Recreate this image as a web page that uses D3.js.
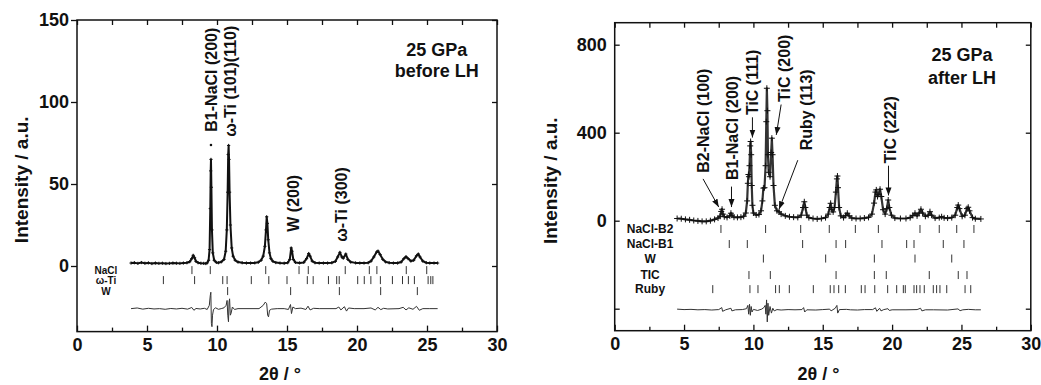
<!DOCTYPE html>
<html>
<head>
<meta charset="utf-8">
<script src="https://cdn.jsdelivr.net/npm/d3@7"></script>
<style>
  body { margin: 0; background: #fff; }
  svg text { font-family: "Liberation Sans", Arial, sans-serif; font-weight: bold; fill: #111; }
</style>
</head>
<body>
<svg id="chart" width="1041" height="385"></svg>
<script>
// ---------- data: 25 GPa, before laser heating ----------
const beforeObs = [
  [3.86,1.8],[4.1,2.0],[4.35,1.6],[4.6,2.1],[4.85,1.7],[5.1,1.9],[5.35,1.5],[5.6,1.8],[5.85,1.6],
  [6.1,1.7],[6.35,1.5],[6.6,1.6],[6.85,1.8],[7.1,1.7],[7.35,1.6],[7.6,1.8],[7.85,2.0],[8.05,2.6],
  [8.2,4.5],[8.3,6.5],[8.4,5.0],[8.5,2.8],[8.65,2.0],[8.85,1.7],[9.05,1.6],[9.2,1.5],[9.3,1.9],
  [9.4,3.5],[9.47,10],[9.52,35],[9.55,58],[9.57,65],[9.6,48],[9.64,22],[9.7,8],[9.8,3.5],[9.95,2.2],
  [10.1,2.0],[10.3,2.5],[10.5,4],[10.62,9],[10.7,22],[10.76,45],[10.8,68],[10.83,73.5],[10.86,65],
  [10.9,45],[10.96,25],[11.05,11],[11.15,6],[11.3,3.5],[11.5,2.4],[11.8,2.0],[12.1,1.8],[12.4,1.8],
  [12.7,1.9],[12.95,2.3],[13.15,3.5],[13.3,6],[13.42,12],[13.5,22],[13.55,30],[13.6,26],[13.66,16],
  [13.75,8],[13.85,4.5],[14.0,2.8],[14.2,2.1],[14.5,1.8],[14.8,1.7],[15.05,2.0],[15.2,4],[15.3,11],
  [15.36,9],[15.45,4],[15.6,2.2],[15.9,1.9],[16.2,2.2],[16.4,4.5],[16.55,7.6],[16.65,6],[16.8,3],
  [17.0,2.0],[17.3,1.8],[17.6,1.8],[17.9,1.8],[18.2,2.0],[18.45,2.8],[18.62,5.5],[18.78,8.3],
  [18.92,5.5],[19.02,4.8],[19.2,7.3],[19.35,4],[19.55,2.4],[19.9,1.9],[20.2,1.8],[20.5,1.8],
  [20.8,2.0],[21.0,3.0],[21.2,5.5],[21.4,8.5],[21.5,9.1],[21.65,7],[21.85,4],[22.05,2.5],[22.3,2.0],
  [22.6,1.8],[22.9,1.8],[23.15,2.4],[23.35,4.5],[23.5,5.7],[23.65,4.5],[23.85,3.0],[24.05,3.5],
  [24.25,6.2],[24.38,7.3],[24.5,5.5],[24.7,3],[24.95,2],[25.2,1.8],[25.5,1.8],[25.76,1.8]
];
const beforeStray = [[9.57,73.8]];
const beforeDiff = [
  [3.86,-26],[4.3,-25.6],[4.7,-26.3],[5.1,-25.8],[5.5,-26.2],[5.9,-26],[6.3,-26.4],[6.7,-25.9],
  [7.1,-26.2],[7.5,-25.8],[7.9,-26.3],[8.2,-25.3],[8.35,-27],[8.5,-25.9],[8.8,-26.2],[9.1,-25.8],
  [9.3,-26.5],[9.45,-24],[9.52,-18],[9.56,-16],[9.6,-35],[9.64,-37],[9.68,-30],[9.75,-26.5],
  [9.9,-25.5],[10.1,-26.4],[10.3,-26],[10.5,-25.5],[10.65,-24],[10.72,-21],[10.77,-30],[10.82,-34],
  [10.86,-22],[10.9,-20],[10.95,-30],[11.0,-29],[11.1,-25],[11.25,-26.5],[11.5,-26],[12,-26],
  [12.5,-26],[13.0,-26],[13.3,-24],[13.45,-22],[13.55,-23],[13.62,-30],[13.68,-31],[13.75,-27],
  [13.9,-26.3],[14.3,-26],[14.8,-26],[15.1,-26.5],[15.25,-23.5],[15.32,-29],[15.42,-25],[15.6,-26],
  [16.0,-25.7],[16.35,-26.5],[16.5,-24.5],[16.65,-26.8],[16.9,-25.8],[17.3,-26],[18,-26],[18.5,-26],
  [18.7,-25],[18.85,-26.8],[19.1,-24.8],[19.25,-27.5],[19.4,-25.6],[19.8,-26],[20.5,-26],[21,-25.6],
  [21.3,-26.8],[21.5,-25.2],[21.7,-26.6],[21.9,-25.8],[22.2,-26.2],[23,-26],[23.3,-25.2],[23.5,-26.8],
  [23.7,-25.5],[24.0,-26.4],[24.25,-24.6],[24.45,-27],[24.7,-26],[25.2,-26],[25.76,-26]
];
const beforePhases = ["NaCl", "\u03c9-Ti", "W"];
const beforeReflections = [
  [8.21,9.52,13.48,15.86,16.52,19.16,20.88,21.42,23.52,24.98],
  [6.17,8.4,10.41,10.72,12.45,13.7,15.0,16.45,16.87,17.96,18.55,18.73,20.05,20.52,20.99,21.67,
   22.53,23.25,23.67,24.1,25.08,25.27,25.42],
  [10.76,15.26,18.74,21.69,24.31]
];
const beforePeakLabels = ["B1-NaCl (200)", "\u03c9-Ti (101)(110)", "W (200)", "\u03c9-Ti (300)"];
const beforeTitle = ["25 GPa", "before LH"];
const beforeYTicks = [0, 50, 100, 150];

// ---------- data: 25 GPa, after laser heating ----------
const afterObs = [
  [4.5,10],[4.8,9],[5.1,6],[5.4,4],[5.7,1],[6.0,-1],[6.3,-3],[6.6,-3],[6.9,0],[7.2,6],[7.45,12],
  [7.6,20],[7.68,42],[7.74,52],[7.8,30],[7.9,18],[8.1,15],[8.3,22],[8.38,34],[8.45,25],[8.6,16],
  [8.85,15],[9.1,16],[9.3,20],[9.45,35],[9.55,90],[9.6,170],[9.64,210],[9.68,200],[9.72,250],
  [9.77,340],[9.8,360],[9.84,300],[9.88,160],[9.93,70],[10.0,35],[10.2,26],[10.4,28],[10.55,45],
  [10.65,90],[10.72,148],[10.8,150],[10.88,250],[10.93,450],[10.97,602],[11.01,500],[11.05,300],
  [11.1,220],[11.2,200],[11.28,310],[11.33,375],[11.38,300],[11.45,160],[11.55,70],[11.7,45],
  [11.85,40],[12.0,30],[12.3,22],[12.6,18],[12.9,16],[13.2,15],[13.45,25],[13.58,60],[13.67,86],
  [13.75,60],[13.85,25],[14.0,14],[14.3,10],[14.6,8],[14.9,10],[15.2,14],[15.4,30],[15.5,60],
  [15.57,79],[15.65,50],[15.75,40],[15.85,60],[15.95,130],[16.02,190],[16.06,203],[16.1,150],
  [16.18,60],[16.3,22],[16.5,14],[16.65,24],[16.77,34],[16.9,22],[17.1,12],[17.4,10],[17.7,10],
  [18.0,12],[18.3,15],[18.55,30],[18.7,80],[18.8,130],[18.86,140],[18.95,110],[19.05,120],
  [19.13,143],[19.22,110],[19.35,50],[19.5,30],[19.62,55],[19.72,94],[19.8,60],[19.95,25],
  [20.2,12],[20.6,10],[21.0,10],[21.3,14],[21.5,24],[21.65,34],[21.8,22],[21.95,35],[22.08,52],
  [22.2,35],[22.4,20],[22.6,25],[22.73,41],[22.85,25],[23.1,12],[23.4,14],[23.57,18],[23.75,13],
  [24.0,12],[24.3,14],[24.55,25],[24.7,60],[24.77,71],[24.85,55],[25.05,20],[25.25,25],[25.4,55],
  [25.49,61],[25.58,45],[25.8,14],[26.0,9],[26.4,8]
];
const afterDiff = [
  [4.5,-402],[5,-404],[5.5,-403],[6,-405],[6.5,-404],[7,-406],[7.5,-404],[7.72,-395],[7.78,-412],
  [8.0,-405],[8.38,-398],[8.45,-410],[8.7,-405],[9.2,-404],[9.5,-400],[9.6,-385],[9.66,-425],
  [9.72,-380],[9.78,-430],[9.84,-390],[9.9,-415],[10.0,-403],[10.3,-408],[10.6,-402],[10.75,-395],
  [10.85,-385],[10.9,-425],[10.95,-360],[11.0,-460],[11.05,-375],[11.1,-430],[11.2,-390],[11.3,-420],
  [11.4,-398],[11.5,-410],[11.7,-404],[12.0,-406],[12.5,-404],[13.0,-405],[13.5,-404],[13.62,-395],
  [13.7,-415],[13.85,-405],[14.5,-406],[15.0,-404],[15.5,-402],[15.6,-410],[15.9,-398],[16.02,-385],
  [16.08,-420],[16.2,-404],[16.7,-403],[17,-405],[17.5,-406],[18,-404],[18.6,-404],[18.8,-396],
  [18.9,-412],[19.1,-398],[19.2,-410],[19.4,-404],[19.7,-400],[19.8,-408],[20,-405],[21,-405],
  [21.8,-404],[22.05,-398],[22.15,-410],[22.4,-405],[23,-405],[24,-406],[24.75,-401],[24.9,-409],
  [25.1,-405],[25.5,-403],[26,-405],[26.4,-405]
];
const afterPhases = ["NaCl-B2", "NaCl-B1", "W", "TIC", "Ruby"];
const afterReflections = [
  [7.66,10.88,13.41,15.47,17.35,19.01,22.01,23.4,24.66,25.9],
  [8.26,9.56,13.55,15.96,16.65,19.27,21.05,21.58,23.69,25.18],
  [10.72,15.21,18.72,21.65,24.3],
  [9.68,11.22,15.96,18.72,19.58,22.68,24.77,25.4],
  [7.07,9.75,10.33,11.6,11.87,12.59,14.32,15.54,15.81,16.15,16.63,17.78,18.05,18.75,19.68,20.33,
   20.81,20.95,21.58,21.77,22.01,22.32,22.97,23.21,23.45,23.94,25.26,25.67]
];
const afterPeakLabels = ["B2-NaCl (100)", "B1-NaCl (200)", "TiC (111)", "TiC (200)", "Ruby (113)", "TiC (222)"];
const afterTitle = ["25 GPa", "after LH"];
const afterYTicks = [-400, 0, 400, 800];
const afterYTickLabels = ["", "0", "400", "800"];

const xMajorTicks = [0, 5, 10, 15, 20, 25, 30];
const xMinorTicks = [2.5, 7.5, 12.5, 17.5, 22.5, 27.5];

// ---------- drawing ----------
const svg = d3.select("#chart");
const ink = "#111";

svg.append("defs").append("marker")
  .attr("id", "arrowhead")
  .attr("markerUnits", "userSpaceOnUse")
  .attr("markerWidth", 9).attr("markerHeight", 7)
  .attr("refX", 8).attr("refY", 3.5)
  .attr("orient", "auto")
  .append("path").attr("d", "M0,0.5 L8,3.5 L0,6.5 Z").attr("fill", ink);

function styleAxis(sel, fontSize) {
  sel.attr("font-family", null).attr("font-size", null);
  sel.select(".domain").remove();
  sel.selectAll(".tick line").attr("stroke", ink).attr("stroke-width", 1.3);
  sel.selectAll(".tick text")
    .style("font-size", fontSize + "px")
    .style("font-family", "'Liberation Sans', Arial, sans-serif")
    .style("font-weight", "bold")
    .attr("fill", ink);
}

function drawPanel(p) {
  const x = d3.scaleLinear().domain([0, 30]).range(p.xRange);
  const y = d3.scaleLinear().domain(p.yDomain).range(p.yRange);
  const g = svg.append("g");
  const [x0, x1] = p.xRange;
  const [yb, yt] = p.yRange;

  // axes
  g.append("g").attr("transform", `translate(0,${yb})`)
    .call(d3.axisBottom(x).tickValues(xMajorTicks).tickSize(-6).tickPadding(7).tickFormat(d3.format("d")))
    .call(s => styleAxis(s, 18));
  g.append("g").attr("transform", `translate(0,${yb})`)
    .call(d3.axisBottom(x).tickValues(xMinorTicks).tickSize(-4).tickFormat(""))
    .call(s => styleAxis(s, 18));
  g.append("g").attr("transform", `translate(0,${yt})`)
    .call(d3.axisTop(x).tickValues(xMajorTicks.concat(xMinorTicks)).tickSize(-5).tickFormat(""))
    .call(s => styleAxis(s, 18));
  g.append("g").attr("transform", `translate(${x0},0)`)
    .call(d3.axisLeft(y).tickValues(p.yTicks).tickSize(p.leftTick).tickPadding(p.leftPad)
      .tickFormat((d, i) => p.yTickLabels ? p.yTickLabels[i] : d3.format("d")(d)))
    .call(s => styleAxis(s, 18));
  g.append("g").attr("transform", `translate(${x1},0)`)
    .call(d3.axisRight(y).tickValues(p.yTicks).tickSize(-5).tickFormat(""))
    .call(s => styleAxis(s, 18));

  // frame
  g.append("rect")
    .attr("x", x0).attr("y", yt).attr("width", x1 - x0).attr("height", yb - yt)
    .attr("fill", "none").attr("stroke", ink).attr("stroke-width", 1.5);

  // reflection markers
  p.reflections.forEach((list, i) => {
    const yc = y(p.rowY[i]);
    g.append("g").selectAll("line").data(list).join("line")
      .attr("x1", d => x(d)).attr("x2", d => x(d))
      .attr("y1", yc - 4).attr("y2", yc + 4)
      .attr("stroke", "#333").attr("stroke-width", 1);
    g.append("text")
      .attr("x", x(p.phaseX)).attr("y", yc).attr("dy", "0.36em")
      .attr("text-anchor", "middle")
      .style("font-size", p.phaseFont + "px")
      .text(p.phases[i]);
  });

  // difference curve
  const line = d3.line().x(d => x(d[0])).y(d => y(d[1]));
  g.append("path").datum(p.diff).attr("d", line)
    .attr("fill", "none").attr("stroke", "#333").attr("stroke-width", 1);

  // calculated / observed profile
  g.append("path").datum(p.obs).attr("d", line)
    .attr("fill", "none").attr("stroke", p.lineColor).attr("stroke-width", p.lineWidth)
    .attr("stroke-linejoin", "round");
  const m = p.markerSize;
  g.append("g").selectAll("path").data(p.obs).join("path")
    .attr("transform", d => `translate(${x(d[0])},${y(d[1])})`)
    .attr("d", `M${-m},0H${m}M0,${-m}V${m}`)
    .attr("stroke", ink).attr("stroke-width", 1);
  if (p.stray) {
    g.append("g").selectAll("circle").data(p.stray).join("circle")
      .attr("cx", d => x(d[0])).attr("cy", d => y(d[1])).attr("r", 1.3).attr("fill", ink);
  }

  // axis titles
  g.append("text")
    .attr("transform", `translate(${p.yTitleX},${(yt + yb) / 2 + 4}) rotate(-90)`)
    .attr("text-anchor", "middle").attr("dy", "0.35em")
    .style("font-size", "19px")
    .text("Intensity / a.u.");
  g.append("text")
    .attr("x", x(p.xTitleAt)).attr("y", 380)
    .attr("text-anchor", "middle")
    .style("font-size", "18px")
    .text("2\u03b8 / \u00b0");

  // condition label
  p.title.forEach((t, i) => {
    g.append("text")
      .attr("x", x(p.titleX)).attr("y", y(p.titleY[i])).attr("dy", "0.35em")
      .attr("text-anchor", "middle")
      .style("font-size", "18px")
      .text(t);
  });

  // peak assignments
  p.peakLabels.forEach((t, i) => {
    const a = p.peakLayout[i];
    g.append("text")
      .attr("transform", `translate(${x(a.x)},${y(a.y)}) rotate(-90)`)
      .attr("dy", "0.36em")
      .style("font-size", "16px")
      .text(t);
    if (a.arrow) {
      g.append("line")
        .attr("x1", x(a.arrow[0])).attr("y1", y(a.arrow[1]))
        .attr("x2", x(a.arrow[2])).attr("y2", y(a.arrow[3]))
        .attr("stroke", ink).attr("stroke-width", 1)
        .attr("marker-end", "url(#arrowhead)");
    }
  });
}

drawPanel({
  xRange: [77, 497], yDomain: [-40, 150], yRange: [331.6, 20],
  yTicks: beforeYTicks, leftTick: 6, leftPad: 2,
  obs: beforeObs, diff: beforeDiff, stray: beforeStray,
  lineColor: ink, lineWidth: 2, markerSize: 1.6,
  reflections: beforeReflections, phases: beforePhases, phaseFont: 10,
  rowY: [-2.5, -8.6, -15.3], phaseX: 2.07,
  yTitleX: 21, xTitleAt: 14.5,
  title: beforeTitle, titleX: 25.7, titleY: [131.7, 118.9],
  peakLabels: beforePeakLabels,
  peakLayout: [
    { x: 9.57, y: 81.9 },
    { x: 10.93, y: 78.8 },
    { x: 15.43, y: 20.9 },
    { x: 18.86, y: 14.8 }
  ]
});

drawPanel({
  xRange: [614.7, 1030.8], yDomain: [-500, 900], yRange: [330.7, 22.7],
  yTicks: afterYTicks, yTickLabels: afterYTickLabels, leftTick: -5, leftPad: 8,
  obs: afterObs, diff: afterDiff,
  lineColor: "#333", lineWidth: 2.2, markerSize: 3,
  reflections: afterReflections, phases: afterPhases, phaseFont: 12,
  rowY: [-37.7, -106, -172, -247, -311], phaseX: 2.55,
  yTitleX: 550, xTitleAt: 14.7,
  title: afterTitle, titleX: 25.04, titleY: [753, 649],
  peakLabels: afterPeakLabels,
  peakLayout: [
    { x: 6.37, y: 218, arrow: [6.37, 190, 7.5, 62] },
    { x: 8.44, y: 185, arrow: [8.42, 155, 8.42, 62] },
    { x: 9.95, y: 480, arrow: [9.93, 470, 9.93, 378] },
    { x: 12.2, y: 540, arrow: [12.0, 528, 11.65, 390] },
    { x: 13.84, y: 320, arrow: [13.2, 275, 11.85, 52] },
    { x: 19.85, y: 260, arrow: [19.74, 250, 19.74, 115] }
  ]
});
</script>
</body>
</html>
